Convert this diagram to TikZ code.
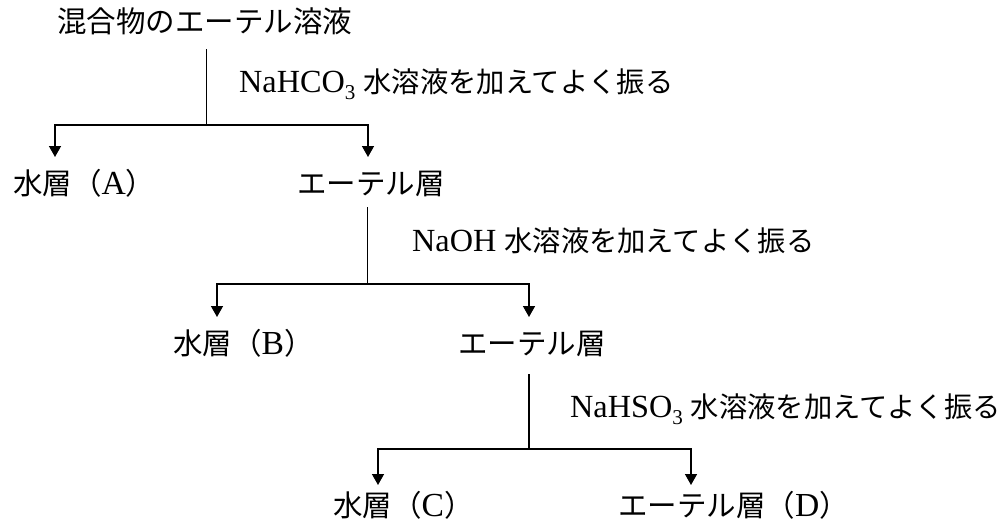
\documentclass[tikz,border=0pt]{standalone}
\usepackage{fontspec}
\setmainfont{Liberation Serif}[Scale=1.14]
\newfontfamily\cjk{Noto Sans CJK JP}
\newcommand\J[1]{{\cjk #1}}
\newcommand\subdig[1]{\raisebox{-0.22em}{\fontsize{18.5}{18.5}\selectfont #1}}
\usetikzlibrary{arrows.meta}
\tikzset{
  lbl/.style={anchor=west, inner sep=0pt, text height=0.88em, text depth=0.12em,
    yshift=-5pt, font=\fontsize{29.5}{35}\selectfont},
  oplbl/.style={lbl, font=\fontsize{28.3}{34}\selectfont},
  line/.style={line width=1.5pt, line cap=rect},
  arr/.style={line width=1.5pt, -{Triangle[width=12pt,length=11pt]}},
}
\begin{document}
\begin{tikzpicture}[x=1pt,y=-1pt]
\path[use as bounding box] (0,0) rectangle (1004,527);
% texts
\node[lbl] (top) at (57,23) {\J{混合物のエーテル溶液}};
\node[oplbl] (op1) at (239,83) {NaHCO\subdig{3} \J{水溶液を加えてよく振る}};
\node[lbl] (A) at (13,185) {\J{水層（}A\J{）}};
\node[lbl] (E1) at (297,185) {\J{エーテル層}};
\node[oplbl] (op2) at (412,242) {NaOH \J{水溶液を加えてよく振る}};
\node[lbl] (B) at (173,345) {\J{水層（}B\J{）}};
\node[lbl] (E2) at (458,345) {\J{エーテル層}};
\node[oplbl] (op3) at (570,408) {NaHSO\subdig{3} \J{水溶液を加えてよく振る}};
\node[lbl] (C) at (333,507) {\J{水層（}C\J{）}};
\node[lbl] (D) at (618,507) {\J{エーテル層（}D\J{）}};
% connector points
\coordinate (s1) at (206.5,50);  \coordinate (j1) at (206.5,125);
\coordinate (a1) at (55,157);    \coordinate (b1) at (368,157);
\coordinate (s2) at (367.5,208); \coordinate (j2) at (367.5,284);
\coordinate (a2) at (217,317);   \coordinate (b2) at (529,317);
\coordinate (s3) at (529,375);   \coordinate (j3) at (529,449);
\coordinate (a3) at (378,485);   \coordinate (b3) at (691,485);
% connectors
\draw[line] (s1) -- (j1);
\draw[arr] (j1) -| (a1);
\draw[arr] (j1) -| (b1);
\draw[line] (s2) -- (j2);
\draw[arr] (j2) -| (a2);
\draw[arr] (j2) -| (b2);
\draw[line] (s3) -- (j3);
\draw[arr] (j3) -| (a3);
\draw[arr] (j3) -| (b3);
\end{tikzpicture}
\end{document}
